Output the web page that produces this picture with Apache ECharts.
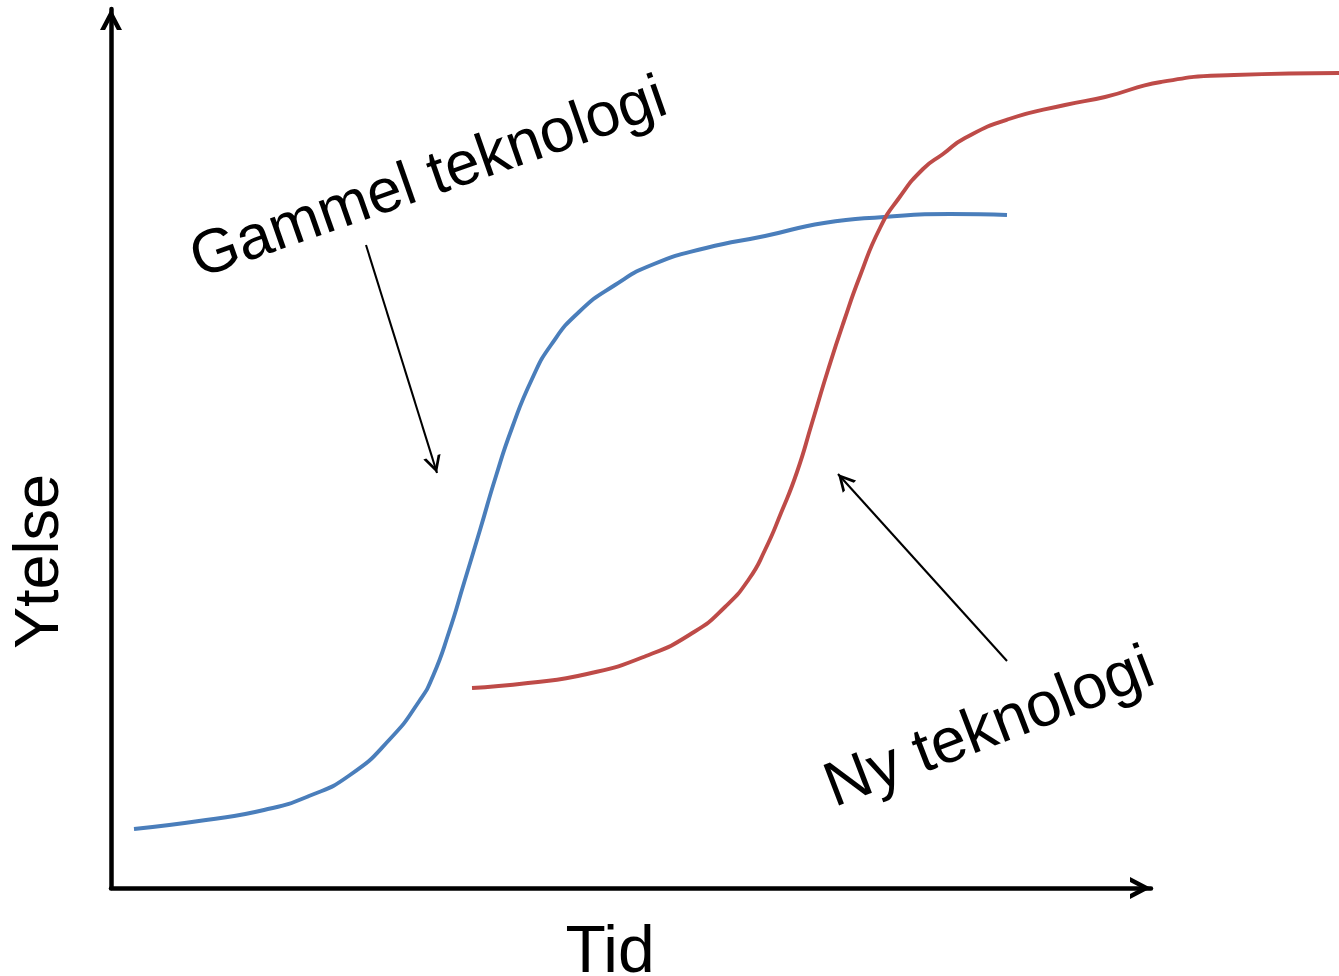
<!DOCTYPE html>
<html>
<head>
<meta charset="utf-8">
<script src="https://cdn.jsdelivr.net/npm/echarts@6/dist/echarts.min.js"></script>
<style>
  html, body { margin: 0; padding: 0; background: #fff; overflow: hidden; }
  #chart { width: 1339px; height: 976px; }
</style>
</head>
<body>
<div id="chart"></div>
<script>
// ---- data (arbitrary units: time 0..122.8, performance 0..87.9) ----
const xAxisTitle = 'Tid';
const yAxisTitle = 'Ytelse';
const oldTechName = 'Gammel teknologi';
const newTechName = 'Ny teknologi';

const oldTechTime = [2.3, 9.5, 15.3, 19.8, 23.9, 27.9, 30.9, 32.2, 33.8, 35.3, 36.9, 38.5, 40.1, 42.1, 44.0, 46.8, 50.4, 54.3, 59.5, 65.4, 71.3, 77.3, 83.9, 89.6];
const oldTechPerf = [5.9, 6.8, 7.8, 9.2, 11.3, 14.9, 18.8, 21.2, 25.6, 30.5, 35.8, 41.2, 46.0, 50.9, 54.3, 57.6, 60.3, 62.4, 64.0, 65.2, 66.5, 67.1, 67.4, 67.3];

const newTechTime = [36.1, 41.7, 47.6, 53.5, 58.3, 61.4, 63.8, 65.4, 67.0, 68.6, 70.1, 71.7, 73.3, 74.9, 76.9, 78.8, 81.2, 83.2, 85.4, 89.8, 95.4, 99.4, 105.0, 112.3, 122.8];
const newTechPerf = [20.0, 20.5, 21.4, 23.2, 25.6, 28.1, 30.9, 33.8, 37.5, 41.6, 46.5, 51.8, 56.7, 61.2, 66.0, 69.0, 71.9, 73.4, 75.0, 76.9, 78.3, 79.1, 80.6, 81.3, 81.5];

// annotation arrows: [start time, start perf] -> [tip time, tip perf]
const oldArrowFrom = [25.5, 64.3];
const oldArrowTo = [32.6, 41.5];
const newArrowFrom = [89.6, 22.7];
const newArrowTo = [72.7, 41.4];

const axisXMax = 104;      // end of the drawn time axis (arrow tip)
const plotXMax = 122.8;    // right edge of the picture
const yMax = 87.9;

// ---- helpers ----
function zip(a, b) { return a.map((v, i) => [v, b[i]]); }
// open V-shaped arrow head whose tip sits at the centre of its box
function chevron(w, L, th) {
  const s = Math.sin(Math.atan(w / L));
  const d = th / s;
  const dw = d * w / L;
  return 'path://M' + w + ',0 L' + (w + 0.01) + ',0 L' + w + ',0.01 Z ' +
    'M' + w + ',' + L + ' L' + (2 * w) + ',' + (2 * L) + ' L' + (2 * w - dw) + ',' + (2 * L) +
    ' L' + w + ',' + (L + d) + ' L' + dw + ',' + (2 * L) + ' L0,' + (2 * L) + ' Z';
}
const FONT = "'Liberation Sans', Arial, Helvetica, sans-serif";
const axisHead = chevron(11, 21, 4.5);
const noteHead = chevron(9, 17, 2.7);

const el = document.getElementById('chart');
const chart = echarts.init(el, null, { renderer: 'canvas' });
chart.setOption({
  animation: false,
  backgroundColor: '#ffffff',
  grid: [
    { left: 111, width: 1040, top: 9, height: 879, containLabel: false, outerBoundsMode: 'none' },
    { left: 111, width: 1228, top: 9, height: 879, containLabel: false, outerBoundsMode: 'none' }
  ],
  xAxis: [
    {
      gridIndex: 0, type: 'value', min: 0, max: axisXMax,
      name: xAxisTitle, nameLocation: 'middle', nameGap: 33,
      nameTextStyle: { fontSize: 66, color: '#000', fontFamily: FONT, padding: [0, 42, 0, 0] },
      axisLine: { show: true, symbol: ['none', axisHead], symbolSize: [22, 42],
        lineStyle: { color: '#000', width: 4.5 } },
      axisTick: { show: false }, axisLabel: { show: false }, splitLine: { show: false }
    },
    {
      gridIndex: 1, type: 'value', min: 0, max: plotXMax, show: false
    }
  ],
  yAxis: [
    {
      gridIndex: 0, type: 'value', min: 0, max: yMax,
      name: yAxisTitle, nameLocation: 'middle', nameGap: 39, nameRotate: 90,
      nameTextStyle: { fontSize: 63, color: '#000', fontFamily: FONT, padding: [0, 226, 0, 0] },
      axisLine: { show: true, symbol: ['none', axisHead], symbolSize: [22, 42],
        lineStyle: { color: '#000', width: 4.5 } },
      axisTick: { show: false }, axisLabel: { show: false }, splitLine: { show: false }
    },
    {
      gridIndex: 1, type: 'value', min: 0, max: yMax, show: false
    }
  ],
  series: [
    {
      name: oldTechName, type: 'line', xAxisIndex: 1, yAxisIndex: 1,
      data: zip(oldTechTime, oldTechPerf),
      smooth: 0.55, showSymbol: false, clip: false,
      lineStyle: { color: '#4a7ebb', width: 3.9 },
      markLine: {
        silent: true, symbol: ['none', noteHead], symbolSize: [18, 34],
        label: { show: false },
        lineStyle: { color: '#000', width: 2.1, type: 'solid' },
        data: [[{ coord: oldArrowFrom }, { coord: oldArrowTo }]]
      }
    },
    {
      name: newTechName, type: 'line', xAxisIndex: 1, yAxisIndex: 1,
      data: zip(newTechTime, newTechPerf),
      smooth: 0.55, showSymbol: false, clip: false,
      lineStyle: { color: '#be4b48', width: 3.9 },
      markLine: {
        silent: true, symbol: ['none', noteHead], symbolSize: [18, 34],
        label: { show: false },
        lineStyle: { color: '#000', width: 2.1, type: 'solid' },
        data: [[{ coord: newArrowFrom }, { coord: newArrowTo }]]
      }
    }
  ],
  graphic: [
    { type: 'text', x: 193, y: 262, rotation: 19.3 * Math.PI / 180,
      style: { text: oldTechName, fontSize: 62, fontFamily: FONT, fill: '#000', align: 'left', verticalAlign: 'middle' } },
    { type: 'text', x: 828, y: 791, rotation: 21 * Math.PI / 180,
      style: { text: newTechName, fontSize: 63, fontFamily: FONT, fill: '#000', align: 'left', verticalAlign: 'middle' } }
  ]
});
</script>
</body>
</html>
